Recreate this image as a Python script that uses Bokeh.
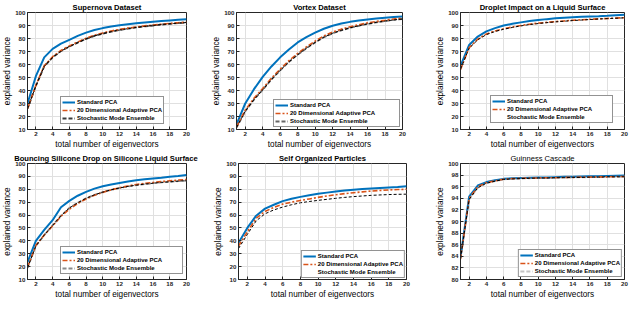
from bokeh.plotting import figure
from bokeh.models import Range1d, FixedTicker, Legend, LegendItem
from bokeh.layouts import column, row
from bokeh.embed import file_html
from bokeh.resources import INLINE

# ---------------- data ----------------
eigenvectors = [1, 2, 3, 4, 5, 6, 7, 8, 9, 10, 11, 12, 13, 14, 15, 16, 17, 18, 19, 20]
x_ticks = [2, 4, 6, 8, 10, 12, 14, 16, 18, 20]
y_ticks = [10, 20, 30, 40, 50, 60, 70, 80, 90, 100]
guinness_y_ticks = [80, 82, 84, 86, 88, 90, 92, 94, 96, 98, 100]

titles = ["Supernova Dataset", "Vortex Dataset", "Droplet Impact on a Liquid Surface",
          "Bouncing  Silicone Drop on Silicone Liquid Surface", "Self Organized Particles",
          "Guinness Cascade"]
series_labels = ["Standard PCA", "20 Dimensional Adaptive PCA", "Stochastic Mode Ensemble"]

supernova_std = [30, 51, 65.5, 72, 76, 79, 82, 84.5, 86.5, 88, 89.2, 90.2, 91, 91.7, 92.3, 92.9, 93.4, 93.9, 94.4, 94.9]
supernova_apca = [26, 44, 59, 66, 70.8, 74.3, 77.3, 80.2, 82.5, 84.3, 85.8, 87, 88, 88.9, 89.7, 90.4, 91, 91.6, 92.1, 92.6]
supernova_sme = [26, 43.5, 58.5, 65.5, 70.3, 73.8, 76.8, 79.7, 82, 83.8, 85.3, 86.5, 87.6, 88.5, 89.3, 90, 90.7, 91.3, 91.8, 92.3]

vortex_std = [14, 30, 41, 50.5, 58.5, 65.5, 71.5, 77, 81, 84.5, 87.5, 89.8, 91.5, 92.8, 93.8, 94.7, 95.4, 96, 96.5, 97]
vortex_apca = [12, 25, 34, 41.5, 49.5, 56.5, 63, 68.5, 73.5, 78, 82, 85, 87.2, 89, 90.6, 92, 93.1, 94, 95, 95.8]
vortex_sme = [11.5, 24, 33, 40.5, 48.5, 55.5, 62, 67.5, 72.5, 77, 81, 84, 86.3, 88.2, 89.8, 91.2, 92.4, 93.4, 94.3, 95]

droplet_std = [59, 75, 81.5, 85.5, 88, 90, 91.3, 92.4, 93.4, 94.2, 94.9, 95.5, 96, 96.4, 96.7, 97, 97.2, 97.5, 97.9, 98.3]
droplet_apca = [56, 73, 79.5, 83.5, 85.8, 87.5, 88.8, 90, 91, 91.8, 92.4, 93, 93.5, 94, 94.4, 94.8, 95.1, 95.4, 95.7, 96]
droplet_sme = [56.5, 72.5, 79, 83, 85.4, 87.1, 88.5, 89.7, 90.7, 91.5, 92.2, 92.8, 93.3, 93.8, 94.2, 94.6, 95, 95.3, 95.6, 95.9]

bouncing_std = [23.5, 40, 48.5, 56, 66, 71, 75, 78, 80.5, 82.3, 83.7, 84.9, 86, 87, 87.7, 88.4, 89, 89.7, 90.3, 91]
bouncing_apca = [19.5, 36.5, 44.5, 51.5, 59, 64.5, 69, 72.5, 75.3, 77.6, 79.6, 81.2, 82.6, 83.7, 84.6, 85.3, 86, 86.6, 87.1, 87.6]
bouncing_sme = [19, 36, 44.5, 52, 59.5, 65.5, 69.5, 73, 75.7, 77.8, 79.6, 81, 82.2, 83.2, 84, 84.7, 85.3, 85.8, 86.3, 86.7]

selforg_std = [38.5, 50, 59.5, 65, 68, 70.8, 72.6, 74.1, 75.4, 76.5, 77.4, 78.3, 79, 79.7, 80.2, 80.6, 81, 81.4, 81.8, 82.3]
selforg_apca = [36, 47, 57.5, 62.8, 66, 68.5, 70, 71.3, 72.5, 73.7, 74.8, 75.8, 76.6, 77.3, 78, 78.6, 79.1, 79.5, 79.8, 80]
selforg_sme = [34, 45, 55.5, 61, 64, 66.2, 68, 69.5, 70.5, 71.4, 72.2, 73, 73.7, 74.3, 74.8, 75.3, 75.6, 75.9, 76.1, 76.2]

guinness_std = [83.8, 94.3, 96.2, 96.8, 97.1, 97.35, 97.45, 97.5, 97.55, 97.6, 97.6, 97.65, 97.7, 97.7, 97.75, 97.8, 97.8, 97.85, 97.9, 97.95]
guinness_apca = [83.5, 94, 96, 96.7, 97, 97.3, 97.4, 97.45, 97.5, 97.5, 97.55, 97.55, 97.6, 97.6, 97.65, 97.65, 97.7, 97.7, 97.75, 97.75]
guinness_sme = [83.6, 93.8, 95.8, 96.6, 96.95, 97.25, 97.35, 97.4, 97.45, 97.5, 97.5, 97.55, 97.55, 97.6, 97.6, 97.65, 97.65, 97.7, 97.7, 97.7]

# ---------------- styling ----------------
FONT = "Liberation Sans"
AX = "#262626"
BLUE = "#0072BD"
ORANGE = "#D95319"


def make_panel(title, std, apca, sme, ylo, yhi, yticks, width, height, left, right, top, bottom,
               legend_loc, legend_margin, label_width, sme_legend_color, title_style="bold"):
    p = figure(width=width, height=height, output_backend="svg", toolbar_location=None,
               x_range=Range1d(1, 20), y_range=Range1d(ylo, yhi),
               min_border_left=left, min_border_right=right,
               min_border_top=top, min_border_bottom=bottom,
               background_fill_color="white", border_fill_color="white",
               outline_line_color=AX, outline_line_width=1)
    p.title.text = title
    p.title.align = "center"
    p.title.text_font = FONT
    p.title.text_font_size = "7.6px"
    p.title.text_font_style = title_style
    p.title.text_color = "black"
    p.title.standoff = 1

    p.xaxis.ticker = FixedTicker(ticks=x_ticks)
    p.xgrid.ticker = FixedTicker(ticks=x_ticks)
    p.yaxis.ticker = FixedTicker(ticks=yticks)
    p.ygrid.ticker = FixedTicker(ticks=yticks)
    p.xaxis.axis_label = "total number of eigenvectors"
    p.yaxis.axis_label = "explained variance"
    for ax in (p.xaxis[0], p.yaxis[0]):
        ax.major_tick_in = 3
        ax.major_tick_out = 0
        ax.minor_tick_line_color = None
        ax.axis_line_color = AX
        ax.major_tick_line_color = AX
        ax.major_label_text_font = FONT
        ax.major_label_text_font_size = "6.2px"
        ax.major_label_text_font_style = "bold"
        ax.major_label_text_color = AX
        ax.major_label_standoff = 2
        ax.axis_label_text_font = FONT
        ax.axis_label_text_font_size = "8.2px"
        ax.axis_label_text_font_style = "normal"
        ax.axis_label_text_color = "black"
        ax.axis_label_standoff = 1
    p.yaxis[0].axis_label_standoff = 0
    for g in (p.xgrid[0], p.ygrid[0]):
        g.grid_line_color = "#e0e0e0"
        g.grid_line_width = 1

    r_under = p.line(eigenvectors, sme, line_color=sme_legend_color, line_width=1.8, line_dash="4 2")
    r_std = p.line(eigenvectors, std, line_color=BLUE, line_width=2)
    r_apca = p.line(eigenvectors, apca, line_color=ORANGE, line_width=1.6, line_dash="5 2 2 2")
    p.line(eigenvectors, sme, line_color="black", line_width=1, line_dash="3 2")

    legend = Legend(items=[LegendItem(label=series_labels[0], renderers=[r_std]),
                           LegendItem(label=series_labels[1], renderers=[r_apca]),
                           LegendItem(label=series_labels[2], renderers=[r_under])],
                    location=legend_loc, orientation="vertical",
                    label_text_font=FONT, label_text_font_size="6px", label_text_font_style="bold",
                    label_text_color="black",
                    glyph_width=13, glyph_height=8, label_height=8, label_width=label_width,
                    label_standoff=2, padding=1, spacing=0, margin=legend_margin,
                    border_line_color=AX, border_line_width=1,
                    background_fill_color="white", background_fill_alpha=1)
    p.add_layout(legend)
    return p


f1 = make_panel(titles[0], supernova_std, supernova_apca, supernova_sme, 10, 100, y_ticks,
                206, 151, 23, 20, 11, 21, (33, 5), 0, 84, "#3a3a3a")
f2 = make_panel(titles[1], vortex_std, vortex_apca, vortex_sme, 10, 100, y_ticks,
                216, 151, 30, 20, 11, 21, "bottom_right", 2, 108, "#666666")
f3 = make_panel(titles[2], droplet_std, droplet_apca, droplet_sme, 10, 100, y_ticks,
                208, 151, 38, 6, 11, 21, (30, 6), 0, 104, "white")
f4 = make_panel(titles[3], bouncing_std, bouncing_apca, bouncing_sme, 10, 100, y_ticks,
                206, 150, 23, 20, 12, 21, (33, 5), 0, 104, "#8a8a8a")
f5 = make_panel(titles[4], selforg_std, selforg_apca, selforg_sme, 10, 100, y_ticks,
                216, 150, 32, 16, 12, 21, "bottom_right", 1, 84, "white")
f6 = make_panel(titles[5], guinness_std, guinness_apca, guinness_sme, 80, 100, guinness_y_ticks,
                208, 150, 38, 6, 12, 21, "bottom_right", 2, 82, "#c4c4c4", title_style="normal")

layout = column(row(f1, f2, f3), row(f4, f5, f6))

open("out.html", "w").write(file_html(layout, INLINE))
